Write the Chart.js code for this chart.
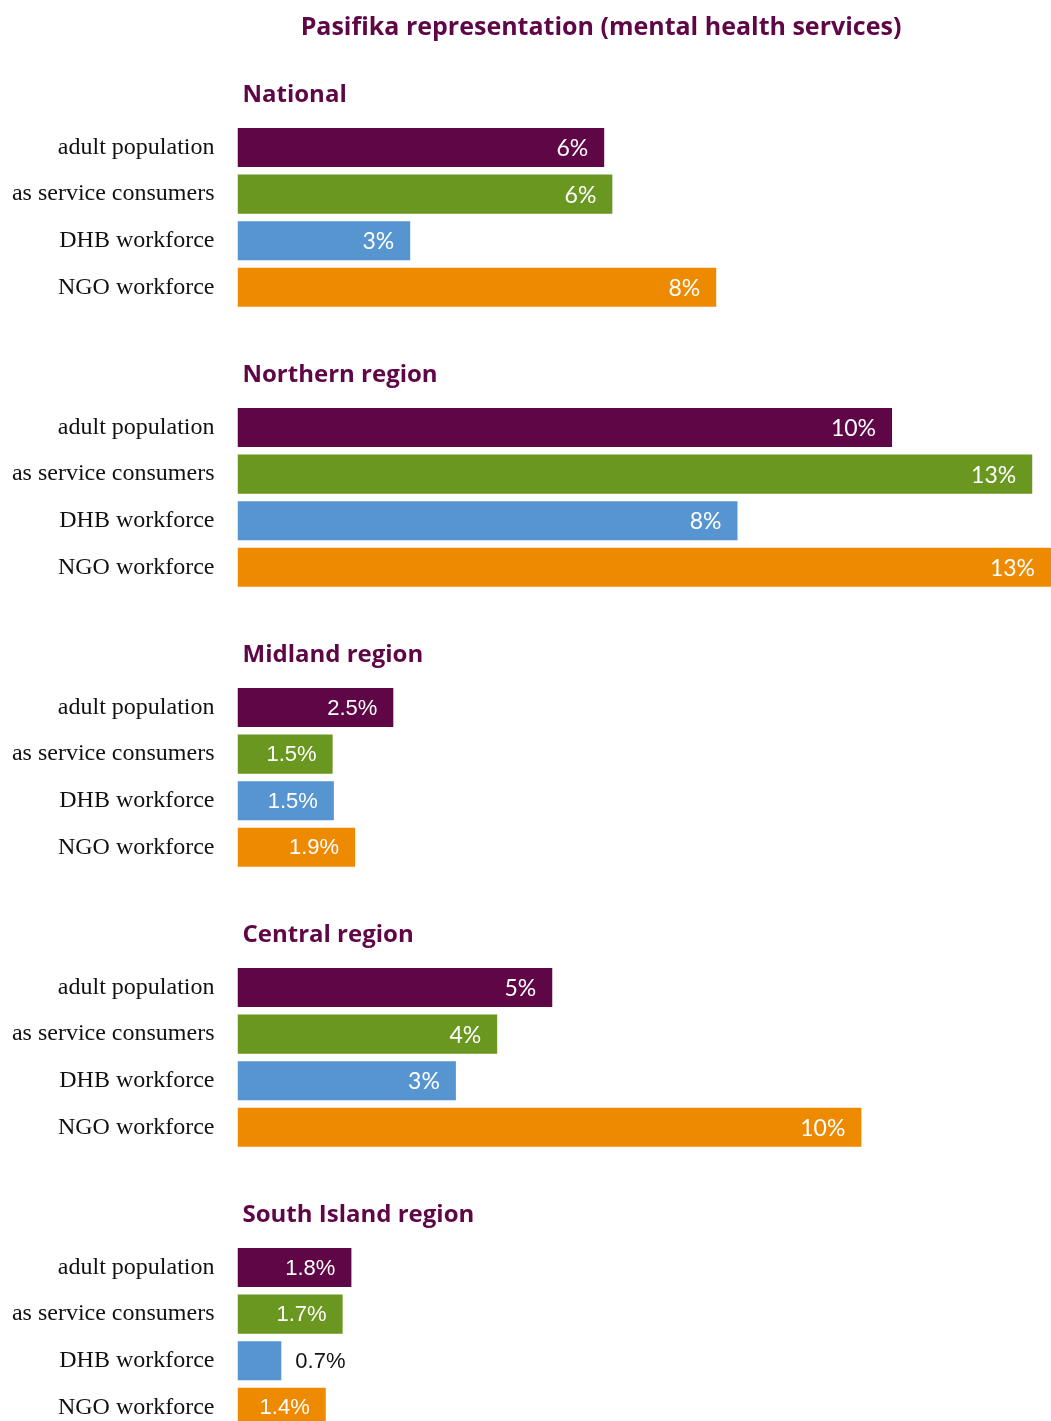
<!DOCTYPE html>
<html>
<head>
<meta charset="utf-8">
<script src="https://cdn.jsdelivr.net/npm/chart.js@4.4.1/dist/chart.umd.min.js"></script>
<style>
  html, body { margin: 0; padding: 0; background: #ffffff; }
  body { width: 1051px; height: 1421px; overflow: hidden; position: relative; }
  .panel { position: absolute; left: 0; width: 1051px; }
  .panel canvas { display: block; }
</style>
</head>
<body>
<div id="wrap"></div>
<script>
// Chart title and region headings
const chartTitle = 'Pasifika representation (mental health services)';
const regions = ['National', 'Northern region', 'Midland region', 'Central region', 'South Island region'];

// Row labels shared by every region
const categories = ['adult population', 'as service consumers', 'DHB workforce', 'NGO workforce'];

// Pasifika share (%) for each region, in category order
const nationalValues = [5.86, 5.99, 2.76, 7.65];
const northernValues = [10.46, 12.70, 7.99, 13.10];
const midlandValues  = [2.49, 1.52, 1.54, 1.88];
const centralValues  = [5.03, 4.15, 3.49, 9.97];
const southValues    = [1.82, 1.68, 0.70, 1.41];

// Decimal places used when printing each region's values
const labelDecimals = [0, 0, 1, 0, 1];

const regionValues = [nationalValues, northernValues, midlandValues, centralValues, southValues];

const barColors = ['#5e0646', '#699720', '#5795d1', '#ee8a00'];
const headColor = '#5e0646';
const xMax = 13;

// Draws the page title (first panel) and the region heading above each panel
const headingPlugin = {
  id: 'regionHeading',
  afterDraw(chart, args, opts) {
    const ctx = chart.ctx;
    const area = chart.chartArea;
    ctx.save();
    ctx.fillStyle = headColor;
    ctx.textBaseline = 'middle';
    if (opts.mainTitle) {
      ctx.font = 'bold 25px "Open Sans"';
      ctx.textAlign = 'center';
      ctx.fillText(opts.mainTitle, 601, 28);
    }
    ctx.font = 'bold 24px "Open Sans"';
    ctx.textAlign = 'left';
    ctx.fillText(opts.text, area.left + 5, area.top - 29.5);
    ctx.restore();
  }
};

// Writes each bar's value at its end, inside the bar when it fits
const valuePlugin = {
  id: 'barValues',
  afterDatasetsDraw(chart, args, opts) {
    const ctx = chart.ctx;
    const meta = chart.getDatasetMeta(0);
    const data = chart.data.datasets[0].data;
    ctx.save();
    ctx.font = opts.font;
    ctx.textBaseline = 'middle';
    meta.data.forEach((bar, i) => {
      const txt = data[i].toFixed(opts.decimals) + '%';
      const w = ctx.measureText(txt).width;
      const x = Math.min(bar.x, chart.chartArea.right);
      if (x - bar.base > w + 26) {
        ctx.fillStyle = '#ffffff';
        ctx.textAlign = 'right';
        ctx.fillText(txt, x - 16, bar.y + 1);
      } else {
        ctx.fillStyle = '#111111';
        ctx.textAlign = 'left';
        ctx.fillText(txt, x + 14, bar.y + 1);
      }
    });
    ctx.restore();
  }
};

const wrap = document.getElementById('wrap');
const plotTop = 69.2;      // space above the bars inside a panel
const plotHeight = 186.4;  // four rows of bars
const panelStep = 280;

regions.forEach((name, r) => {
  const top = r === 0 ? 0 : 55 + panelStep * r;
  const padTop = r === 0 ? 55 + plotTop : plotTop;
  const height = r === 0 ? 55 + panelStep : panelStep;
  const div = document.createElement('div');
  div.className = 'panel';
  div.style.top = top + 'px';
  div.style.height = height + 'px';
  const canvas = document.createElement('canvas');
  canvas.width = 1051;
  canvas.height = height;
  div.appendChild(canvas);
  wrap.appendChild(div);

  new Chart(canvas, {
    type: 'bar',
    data: {
      labels: categories,
      datasets: [{
        data: regionValues[r],
        backgroundColor: barColors,
        borderWidth: 0,
        barPercentage: 0.84,
        categoryPercentage: 1.0
      }]
    },
    options: {
      indexAxis: 'y',
      responsive: false,
      animation: false,
      devicePixelRatio: 1,
      layout: {
        padding: { top: padTop, bottom: height - padTop - plotHeight, left: 0, right: 0 }
      },
      scales: {
        x: {
          min: 0,
          max: xMax,
          display: false,
          grid: { display: false }
        },
        y: {
          // tick marks stay hidden; their length only sets the gap before the labels
          grid: { display: false, drawTicks: true, tickLength: 23 },
          border: { display: false },
          ticks: {
            color: '#111111',
            padding: 0,
            font: { family: '"Liberation Serif"', size: 24 }
          },
          afterFit(scale) { scale.width = 237.5; }
        }
      },
      plugins: {
        legend: { display: false },
        tooltip: { enabled: false },
        title: { display: false },
        regionHeading: { text: name, mainTitle: r === 0 ? chartTitle : null },
        barValues: {
          decimals: labelDecimals[r],
          font: labelDecimals[r] === 0 ? '23px "Lato"' : '22px "Liberation Sans"'
        }
      }
    },
    plugins: [headingPlugin, valuePlugin]
  });
});
</script>
</body>
</html>
